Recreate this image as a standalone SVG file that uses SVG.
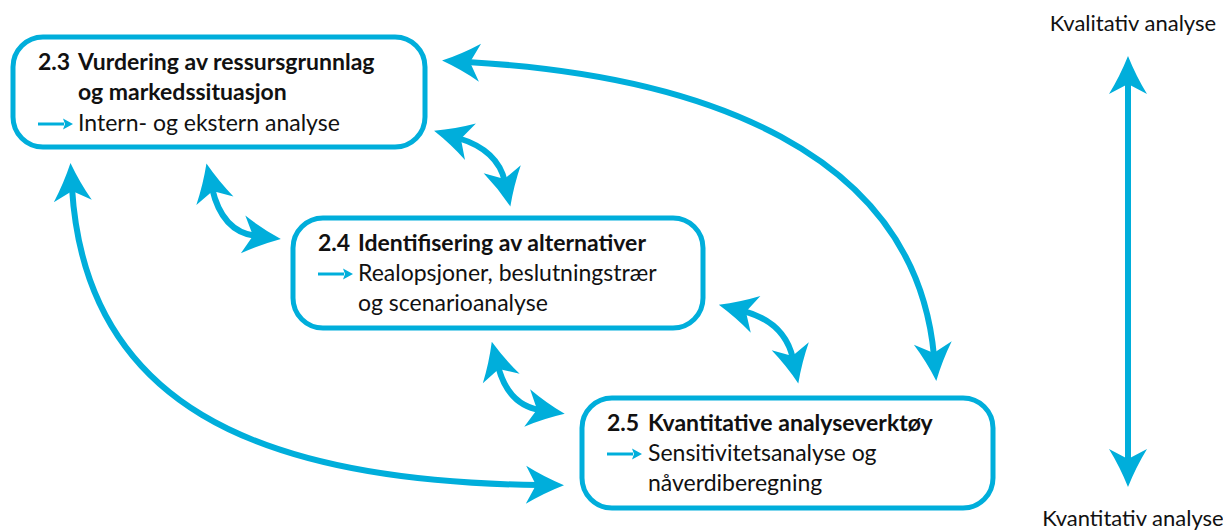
<svg xmlns="http://www.w3.org/2000/svg" width="1223" height="532" viewBox="0 0 1223 532">
  <style>
    .box { fill: #ffffff; stroke: #00aedb; stroke-width: 5; }
    .link { fill: none; stroke: #00aedb; stroke-width: 6; marker-start: url(#head); marker-end: url(#head); }
    .pointer { fill: none; stroke: #00aedb; stroke-width: 3; marker-end: url(#small); }
    .h { font-family: Lato, "Liberation Sans", sans-serif; font-weight: bold; font-size: 23px; fill: #111; }
    .t { font-family: Lato, "Liberation Sans", sans-serif; font-size: 23px; fill: #111; }
    .axis { font-family: Lato, "Liberation Sans", sans-serif; font-size: 22px; fill: #111; }
  </style>
  <defs>
    <!-- swept double-barb head used on every connector end -->
    <marker id="head" markerUnits="userSpaceOnUse" viewBox="-4 -24 48 48" markerWidth="48" markerHeight="48" refX="13" refY="0" orient="auto-start-reverse">
      <path d="M38,0 Q18,-8 0,-19 L10,0 L0,19 Q18,8 38,0 Z" fill="#00aedb"/>
    </marker>
    <marker id="small" markerUnits="userSpaceOnUse" viewBox="-2 -8 14 16" markerWidth="14" markerHeight="16" refX="1" refY="0" orient="auto">
      <path d="M10,0 L0,-5.5 L2,0 L0,5.5 Z" fill="#00aedb"/>
    </marker>
  </defs>

  <!-- connectors -->
  <g id="connectors">
    <path class="link" d="M212,188 Q222,232 256,236"/>
    <path class="link" d="M458,138 Q498,150 505,182"/>
    <path class="link" d="M467,62 C700,75 915,150 934,356"/>
    <path class="link" d="M72,188 C85,400 250,482 539,485"/>
    <path class="link" d="M498,366 Q508,405 540,410"/>
    <path class="link" d="M743,311 Q785,322 793,359"/>
    <path class="link" d="M1128,81 L1128,462"/>
  </g>

  <!-- 2.3 -->
  <g id="node-2-3">
    <rect class="box" x="13" y="37" width="412" height="110" rx="30"/>
    <text class="h" x="38" y="70">2.3</text>
    <text class="h" x="78" y="70">Vurdering av ressursgrunnlag</text>
    <text class="h" x="78" y="100">og markedssituasjon</text>
    <path class="pointer" d="M38,124 L64,124"/>
    <text class="t" x="78" y="131">Intern- og ekstern analyse</text>
  </g>

  <!-- 2.4 -->
  <g id="node-2-4">
    <rect class="box" x="293" y="218" width="410" height="110" rx="30"/>
    <text class="h" x="318" y="251">2.4</text>
    <text class="h" x="358" y="251">Identifisering av alternativer</text>
    <path class="pointer" d="M318,274 L344,274"/>
    <text class="t" x="358" y="281">Realopsjoner, beslutningstrær</text>
    <text class="t" x="358" y="311">og scenarioanalyse</text>
  </g>

  <!-- 2.5 -->
  <g id="node-2-5">
    <rect class="box" x="582" y="398" width="411" height="110" rx="30"/>
    <text class="h" x="607" y="431">2.5</text>
    <text class="h" x="648" y="431">Kvantitative analyseverktøy</text>
    <path class="pointer" d="M607,454 L633,454"/>
    <text class="t" x="648" y="461">Sensitivitetsanalyse og</text>
    <text class="t" x="648" y="491">nåverdiberegning</text>
  </g>

  <!-- scale labels -->
  <g id="scale">
    <text class="axis" x="1133" y="31" text-anchor="middle">Kvalitativ analyse</text>
    <text class="axis" x="1133" y="526" text-anchor="middle">Kvantitativ analyse</text>
  </g>
</svg>
